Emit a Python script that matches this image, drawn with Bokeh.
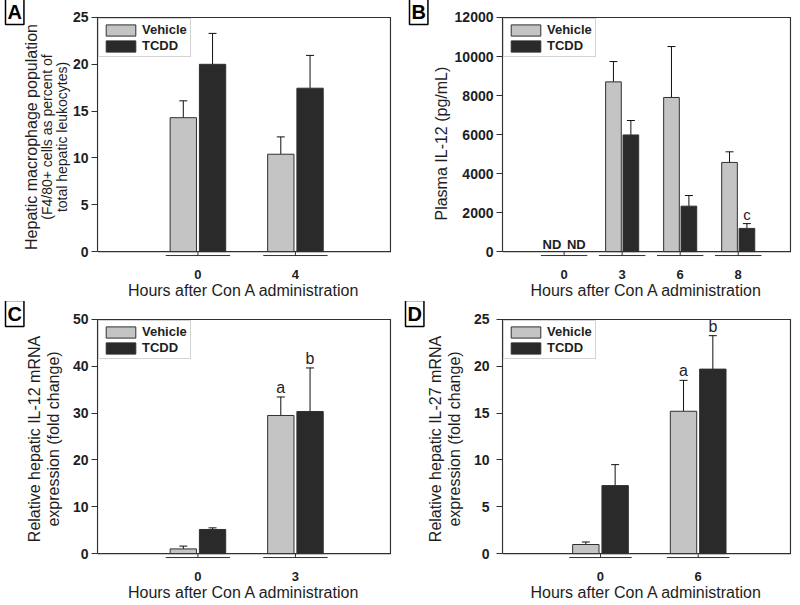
import math
from bokeh.plotting import figure
from bokeh.models import ColumnDataSource, Range1d, FixedTicker, Title, Whisker, TeeHead
from bokeh.layouts import gridplot
from bokeh.core.properties import value
from bokeh.embed import file_html
from bokeh.resources import INLINE

NaN = float("nan")

# ---------------- data ----------------
series_names = ["Vehicle", "TCDD"]
x_axis_title = "Hours after Con A administration"

a_hours = ["0", "4"]
a_vehicle = [14.3, 10.4]
a_vehicle_err = [1.8, 1.85]
a_tcdd = [20.0, 17.45]
a_tcdd_err = [3.3, 3.5]
a_vehicle_note = ["", ""]
a_tcdd_note = ["", ""]
a_y_ticks = [0, 5, 10, 15, 20, 25]
a_y_title = ["Hepatic macrophage population", "(F4/80+ cells as percent of", "total hepatic leukocytes)"]

b_hours = ["0", "3", "6", "8"]
b_vehicle = [NaN, 8700, 7900, 4570]
b_vehicle_err = [NaN, 1040, 2610, 545]
b_tcdd = [NaN, 5980, 2330, 1190]
b_tcdd_err = [NaN, 740, 545, 245]
b_vehicle_note = ["ND", "", "", ""]
b_tcdd_note = ["ND", "", "", "c"]
b_y_ticks = [0, 2000, 4000, 6000, 8000, 10000, 12000]
b_y_title = ["Plasma IL-12 (pg/mL)"]

c_hours = ["0", "3"]
c_vehicle = [1.0, 29.5]
c_vehicle_err = [0.6, 3.95]
c_tcdd = [5.15, 30.35]
c_tcdd_err = [0.35, 9.3]
c_vehicle_note = ["", "a"]
c_tcdd_note = ["", "b"]
c_y_ticks = [0, 10, 20, 30, 40, 50]
c_y_title = "Relative hepatic IL-12 mRNA\nexpression (fold change)"

d_hours = ["0", "6"]
d_vehicle = [0.97, 15.2]
d_vehicle_err = [0.27, 3.3]
d_tcdd = [7.26, 19.7]
d_tcdd_err = [2.24, 3.57]
d_vehicle_note = ["", "a"]
d_tcdd_note = ["", "b"]
d_y_ticks = [0, 5, 10, 15, 20, 25]
d_y_title = "Relative hepatic IL-27 mRNA\nexpression (fold change)"

# ---------------- style ----------------
FONT = "Liberation Sans"
LINE = "#303030"
TEXT = "#1e1e1e"
FILLS = ["#c4c4c4", "#2a2a2a"]
BAR_W = 0.27
BAR_OFF = 0.15


def panel(letter, hours, veh, veh_err, tcdd, tcdd_err, veh_note, tcdd_note,
          y_ticks, y_title, g):
    W, H = g["W"], g["H"]
    bl, br, bt, bh = g["box_left"], g["box_right"], g["box_top"], g["box_h"]
    xlo, xhi = g["x_lo"], g["x_hi"]
    y_max = y_ticks[-1]
    ppx = (br - bl) / (xhi - xlo)
    ppy = bh / y_max
    fl, fr, ft, fb = bl - 1, br + 1, bt - 1, bt + bh + 6
    p = figure(width=W, height=H, output_backend="svg", toolbar_location=None,
               x_range=Range1d(xlo - 1 / ppx, xhi + 1 / ppx),
               y_range=Range1d(-6 / ppy, y_max + 1 / ppy),
               min_border_left=fl, min_border_right=W - fr,
               min_border_top=ft, min_border_bottom=H - fb)
    p.outline_line_color = None
    p.grid.visible = False
    p.background_fill_color = "white"
    p.border_fill_color = "white"

    # frame box drawn at y = 0 .. y_max
    p.line(x=[xlo, xhi, xhi, xlo, xlo], y=[0, 0, y_max, y_max, 0],
           line_color=LINE, line_width=1.2, line_join="miter")

    n = len(hours)
    xs = list(range(n))
    # category underlines below the axis and short connecting ticks
    dy = 4 / ppy
    uh = g["under_half"]
    p.segment(x0=[x - uh for x in xs], x1=[x + uh for x in xs], y0=[-dy] * n, y1=[-dy] * n,
              line_color=LINE, line_width=1)
    p.segment(x0=xs, x1=xs, y0=[0] * n, y1=[-dy] * n, line_color=LINE, line_width=1)

    for k, (vals, errs, notes) in enumerate([(veh, veh_err, veh_note), (tcdd, tcdd_err, tcdd_note)]):
        sign = -1 if k == 0 else 1
        bx, top, up = [], [], []
        nd_x, nd_t = [], []
        lt_x, lt_y, lt_t = [], [], []
        for i in range(n):
            xi = xs[i] + sign * BAR_OFF
            v = vals[i]
            if v is None or (isinstance(v, float) and math.isnan(v)):
                if notes[i]:
                    nd_x.append(xi)
                    nd_t.append(notes[i])
                continue
            bx.append(xi)
            top.append(v)
            up.append(v + errs[i])
            if notes[i]:
                lt_x.append(xi)
                lt_y.append(v + errs[i])
                lt_t.append(notes[i])
        src = ColumnDataSource(dict(x=bx, top=top, upper=up))
        p.vbar(x="x", top="top", bottom=0, width=BAR_W, source=src,
               fill_color=FILLS[k], line_color=LINE, line_width=1,
               legend_label=series_names[k])
        p.add_layout(Whisker(base="x", lower="top", upper="upper", source=src,
                             dimension="height", line_color="#111111", line_width=1,
                             upper_head=TeeHead(size=8, line_color="#111111", line_width=1),
                             lower_head=None))
        if nd_x:
            p.text(x=nd_x, y=[0] * len(nd_x), text=nd_t, text_align="center",
                   text_baseline="bottom", x_offset=3.5 * sign, y_offset=0,
                   text_font=value(FONT), text_font_size="13px", text_font_style="bold",
                   text_color=TEXT)
        if lt_x:
            p.text(x=lt_x, y=lt_y, text=lt_t, text_align="center",
                   text_baseline="bottom", y_offset=-1,
                   text_font=value(FONT), text_font_size=g["note_size"],
                   text_color=TEXT)

    # y axis
    yax = p.yaxis[0]
    yax.ticker = FixedTicker(ticks=y_ticks)
    yax.axis_line_color = None
    yax.major_tick_out = 5
    yax.major_tick_in = 1
    yax.major_tick_line_color = LINE
    yax.minor_tick_line_color = None
    yax.major_label_text_font = FONT
    yax.major_label_text_font_size = "14px"
    yax.major_label_text_font_style = "bold"
    yax.major_label_text_color = TEXT
    yax.major_label_standoff = g["ytick_standoff"]
    if isinstance(y_title, str):
        yax.axis_label = y_title
        yax.axis_label_text_font = FONT
        yax.axis_label_text_font_size = "16px"
        yax.axis_label_text_font_style = "normal"
        yax.axis_label_text_color = TEXT
        yax.axis_label_standoff = g["ylabel_standoff"]
        yax.axis_label_text_line_height = 1.1
    else:
        # stacked outward from the axis: last line nearest the tick labels
        for txt, fs in reversed(list(zip(y_title, g["ytitle_sizes"]))):
            p.add_layout(Title(text=txt, align=g.get("ytitle_align", "center"),
                               offset=g.get("ytitle_offset", 0),
                               vertical_align="middle",
                               standoff=g.get("ytitle_standoff", -3),
                               text_font=FONT, text_font_size=fs,
                               text_font_style="normal", text_color=TEXT), "left")

    # x axis
    xax = p.xaxis[0]
    xax.ticker = FixedTicker(ticks=xs)
    xax.major_label_overrides = {i: h for i, h in enumerate(hours)}
    xax.axis_line_color = None
    xax.major_tick_line_color = None
    xax.minor_tick_line_color = None
    xax.major_label_standoff = 6
    xax.major_label_text_font = FONT
    xax.major_label_text_font_size = "13px"
    xax.major_label_text_font_style = "bold"
    xax.major_label_text_color = TEXT
    xax.axis_label = x_axis_title
    xax.axis_label_text_font = FONT
    xax.axis_label_text_font_size = "16px"
    xax.axis_label_text_font_style = "normal"
    xax.axis_label_text_color = TEXT
    xax.axis_label_standoff = 0

    # legend
    lg = p.legend[0]
    lg.location = "top_left"
    lg.border_line_color = "#a8a8a8"
    lg.border_line_width = 1
    lg.background_fill_color = "white"
    lg.background_fill_alpha = 1
    lg.padding = 3
    lg.margin = 2
    lg.spacing = 1
    lg.glyph_width = 37
    lg.glyph_height = 14
    lg.label_height = 14
    lg.label_standoff = 3
    lg.label_text_font = FONT
    lg.label_text_font_size = "13px"
    lg.label_text_font_style = "bold"
    lg.label_text_color = TEXT

    # panel letter, boxed, in the top-left corner
    p.add_layout(Title(text=letter, align="left", offset=5 - fl, standoff=-16,
                       vertical_align="bottom", text_font=FONT, text_font_size="20px",
                       text_font_style="bold", text_color="black", padding=2,
                       border_line_color="black", border_line_width=1.5,
                       background_fill_color="white"), "above")
    return p


geo_a = dict(W=400, H=301, box_left=97, box_right=390, box_top=17, box_h=239,
             x_lo=-1.03, x_hi=1.975, under_half=0.33, ytick_standoff=3,
             ytitle_sizes=["16px", "14px", "14px"], note_size="16px")
geo_b = dict(W=396, H=301, box_left=98, box_right=390, box_top=17, box_h=239,
             x_lo=-1.062, x_hi=3.901, under_half=0.40, ytick_standoff=3,
             ytitle_sizes=["16px"], ytitle_align="left", ytitle_offset=37,
             ytitle_standoff=1, note_size="15px")
geo_c = dict(W=400, H=302, box_left=97, box_right=390, box_top=18, box_h=238,
             x_lo=-1.03, x_hi=1.975, under_half=0.33, ytick_standoff=3,
             ylabel_standoff=8, note_size="16px")
geo_d = dict(W=396, H=302, box_left=102, box_right=390, box_top=18, box_h=238,
             x_lo=-1.003, x_hi=1.945, under_half=0.32, ytick_standoff=7,
             ylabel_standoff=8, note_size="16px")

pa = panel("A", a_hours, a_vehicle, a_vehicle_err, a_tcdd, a_tcdd_err,
           a_vehicle_note, a_tcdd_note, a_y_ticks, a_y_title, geo_a)
pb = panel("B", b_hours, b_vehicle, b_vehicle_err, b_tcdd, b_tcdd_err,
           b_vehicle_note, b_tcdd_note, b_y_ticks, b_y_title, geo_b)
pc = panel("C", c_hours, c_vehicle, c_vehicle_err, c_tcdd, c_tcdd_err,
           c_vehicle_note, c_tcdd_note, c_y_ticks, c_y_title, geo_c)
pd = panel("D", d_hours, d_vehicle, d_vehicle_err, d_tcdd, d_tcdd_err,
           d_vehicle_note, d_tcdd_note, d_y_ticks, d_y_title, geo_d)

grid = gridplot([[pa, pb], [pc, pd]], toolbar_location=None)

open("out.html", "w").write(file_html(grid, INLINE))
